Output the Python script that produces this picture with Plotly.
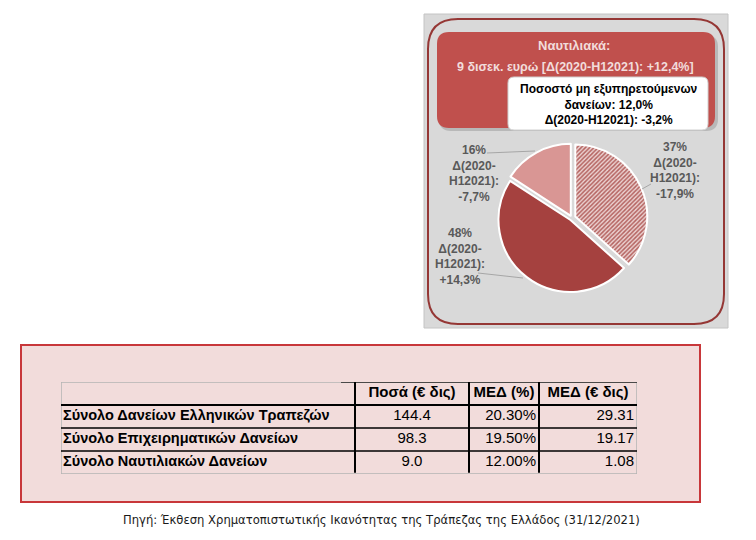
import plotly.graph_objects as go

W, H = 756, 540
OFF = 8  # page body margin compensation

# ---------------- data ----------------
pie_labels = ["Τμήμα Α", "Τμήμα Β", "Τμήμα Γ"]
pie_values = [37, 48, 16]
pie_changes = ["-17,9%", "+14,3%", "-7,7%"]

header_title = "Ναυτιλιακά:"
header_sub = "9 δισεκ. ευρώ [Δ(2020-Η12021): +12,4%]"
npl_lines = ["Ποσοστό μη εξυπηρετούμενων", "δανείων: 12,0%", "Δ(2020-Η12021): -3,2%"]

table_headers = ["Ποσά (€ δις)", "ΜΕΔ (%)", "ΜΕΔ (€ δις)"]
row_labels = ["Σύνολο Δανείων Ελληνικών Τραπεζών",
              "Σύνολο Επιχειρηματικών Δανείων",
              "Σύνολο Ναυτιλιακών Δανείων"]
amounts = [144.4, 98.3, 9.0]
npl_pct = [20.30, 19.50, 12.00]
npl_amt = [29.31, 19.17, 1.08]

source_text = "Πηγή: Έκθεση Χρηματοπιστωτικής Ικανότητας της Τράπεζας της Ελλάδος (31/12/2021)"

# ---------------- helpers ----------------
def px(x):
    return (x - OFF) / W

def py(y):
    return 1 - (y - OFF) / H

def rrect(x0, y0, x1, y1, r):
    pts = [
        f"M {px(x0 + r)},{py(y0)}",
        f"L {px(x1 - r)},{py(y0)}",
        f"Q {px(x1)},{py(y0)} {px(x1)},{py(y0 + r)}",
        f"L {px(x1)},{py(y1 - r)}",
        f"Q {px(x1)},{py(y1)} {px(x1 - r)},{py(y1)}",
        f"L {px(x0 + r)},{py(y1)}",
        f"Q {px(x0)},{py(y1)} {px(x0)},{py(y1 - r)}",
        f"L {px(x0)},{py(y0 + r)}",
        f"Q {px(x0)},{py(y0)} {px(x0 + r)},{py(y0)}",
        "Z",
    ]
    return " ".join(pts)

LABEL_FONT = "Liberation Sans"
fig = go.Figure()

# ---------------- pie ----------------
cx, cy, R = 572, 218, 73
pull = 0.035
half = R * (1 + pull)
fig.add_trace(go.Pie(
    labels=pie_labels,
    values=pie_values,
    sort=False,
    direction="clockwise",
    rotation=0,
    pull=[0.05, pull, pull],
    textinfo="none",
    hoverinfo="label+percent",
    showlegend=False,
    marker=dict(
        colors=["#dcaeac", "#a5413f", "#d99694"],
        line=dict(color="white", width=2),
        pattern=dict(shape=["/", "", ""], fgcolor="#b4625f", bgcolor="#ecd3d2",
                     size=3, solidity=0.5),
    ),
    domain=dict(x=[px(cx - half), px(cx + half)], y=[py(cy + half), py(cy - half)]),
))

# ---------------- table (cartesian text grid) ----------------
tx0, tx1, ty0, ty1 = 61, 637, 382, 474
col_edges = [0, 294, 408, 478, 576]      # table-internal pixel layout
n_rows = len(row_labels) + 1
TFONT = dict(family=LABEL_FONT, size=15, color="black")
LFONT = dict(family=LABEL_FONT, size=14.5, color="black")

# header row
hdr_x = [(col_edges[i + 1] + col_edges[i + 2]) / 2 for i in range(len(table_headers))]
fig.add_trace(go.Scatter(
    x=hdr_x, y=[0.5] * len(table_headers), mode="text",
    text=[f"<b>{h}</b>" for h in table_headers], textposition="middle center",
    textfont=TFONT, hoverinfo="skip", showlegend=False, xaxis="x", yaxis="y"))
row_y = [i + 1.5 for i in range(len(row_labels))]
# row labels (left)
fig.add_trace(go.Scatter(
    x=[col_edges[0] + 2] * len(row_labels), y=row_y, mode="text",
    text=[f"<b>{r}</b>" for r in row_labels], textposition="middle right",
    textfont=LFONT, hoverinfo="skip", showlegend=False))
# amounts (centered)
fig.add_trace(go.Scatter(
    x=[(col_edges[1] + col_edges[2]) / 2] * len(amounts), y=row_y, mode="text",
    text=[f"{a:.1f}" for a in amounts], textposition="middle center",
    textfont=TFONT, hoverinfo="skip", showlegend=False))
# NPL % (right aligned)
fig.add_trace(go.Scatter(
    x=[col_edges[3] - 3] * len(npl_pct), y=row_y, mode="text",
    text=[f"{p:.2f}%" for p in npl_pct], textposition="middle left",
    textfont=TFONT, hoverinfo="skip", showlegend=False))
# NPL amount (right aligned)
fig.add_trace(go.Scatter(
    x=[col_edges[4] - 3] * len(npl_amt), y=row_y, mode="text",
    text=[f"{a:.2f}" for a in npl_amt], textposition="middle left",
    textfont=TFONT, hoverinfo="skip", showlegend=False))

shapes = []
# pie panel background
shapes.append(dict(type="rect", xref="paper", yref="paper", layer="below",
                   x0=px(424), x1=px(728), y0=py(328), y1=py(14),
                   fillcolor="#d9d9d9", line=dict(color="#c4c4c4", width=1)))
# rounded outline
shapes.append(dict(type="path", xref="paper", yref="paper", layer="below",
                   path=rrect(428, 19, 724, 324, 30),
                   fillcolor="rgba(0,0,0,0)", line=dict(color="#953735", width=2)))
# header shadow + box
shapes.append(dict(type="path", xref="paper", yref="paper", layer="below",
                   path=rrect(439, 35, 718, 131, 12),
                   fillcolor="#b8b8b8", line=dict(width=0)))
shapes.append(dict(type="path", xref="paper", yref="paper", layer="below",
                   path=rrect(437, 32, 715, 128, 12),
                   fillcolor="#c0504d", line=dict(width=0)))
# NPL white box
shapes.append(dict(type="path", xref="paper", yref="paper", layer="below",
                   path=rrect(508, 77, 708, 130, 6),
                   fillcolor="white", line=dict(color="#d0d0d0", width=1)))
# leader lines
for (a, b, c, d) in [(487, 153, 535, 151), (651, 184, 642, 189), (478, 273, 523, 278)]:
    shapes.append(dict(type="line", xref="paper", yref="paper",
                       x0=px(a), y0=py(b), x1=px(c), y1=py(d),
                       line=dict(color="#a6a6a6", width=1)))
# table panel
shapes.append(dict(type="rect", xref="paper", yref="paper", layer="below",
                   x0=px(21), x1=px(700), y0=py(502), y1=py(345),
                   fillcolor="#f2dcdb", line=dict(color="#c8373a", width=2)))

# table grid (data coords on hidden axes)
GRAY = "#b4b4b4"
shapes.append(dict(type="rect", xref="x", yref="y", layer="below",
                   x0=col_edges[0], x1=col_edges[-1], y0=0, y1=n_rows,
                   fillcolor="rgba(0,0,0,0)", line=dict(color=GRAY, width=1.5)))
shapes.append(dict(type="line", xref="x", yref="y", x0=col_edges[1] - 14, x1=col_edges[-1],
                   y0=0, y1=0, line=dict(color="#222222", width=1.5)))
for r in range(1, n_rows):
    shapes.append(dict(type="line", xref="x", yref="y", x0=col_edges[0], x1=col_edges[-1],
                       y0=r, y1=r, line=dict(color="black", width=2 if r == 1 else 1.5)))
for c in col_edges[1:-1]:
    shapes.append(dict(type="line", xref="x", yref="y", x0=c, x1=c,
                       y0=0, y1=n_rows - 0.05, line=dict(color="black", width=2)))

def ann(x, y, text, size, color, family=LABEL_FONT, align="center"):
    return dict(x=px(x), y=py(y), xref="paper", yref="paper", showarrow=False,
                xanchor="center", yanchor="middle", align=align, text=text,
                font=dict(family=family, size=size, color=color))

annotations = [
    ann(574, 45, f"<b>{header_title}</b>", 13, "#f2dcdb"),
    ann(575, 67, f"<b>{header_sub}</b>", 12.5, "#f2dcdb"),
    ann(609, 105, "<br>".join(f"<b>{l}</b>" for l in npl_lines), 12, "black"),
]

label_pos = [(675, 171), (460, 256), (474, 174)]
for v, ch, (lx, ly) in zip(pie_values, pie_changes, label_pos):
    txt = f"<b>{v}%<br>Δ(2020-<br>H12021):<br>{ch}</b>"
    annotations.append(ann(lx, ly, txt, 12, "#595959"))

annotations.append(ann(381, 520, source_text, 11.6, "#1a1a1a", family="DejaVu Sans"))

fig.update_layout(
    width=W, height=H,
    margin=dict(l=0, r=0, t=0, b=0),
    paper_bgcolor="white",
    plot_bgcolor="rgba(0,0,0,0)",
    shapes=shapes,
    annotations=annotations,
    showlegend=False,
    xaxis=dict(domain=[px(tx0), px(tx1)], range=[col_edges[0], col_edges[-1]],
               visible=False, fixedrange=True),
    yaxis=dict(domain=[py(ty1), py(ty0)], range=[n_rows, 0],
               visible=False, fixedrange=True),
)

fig.write_html("out.html")
